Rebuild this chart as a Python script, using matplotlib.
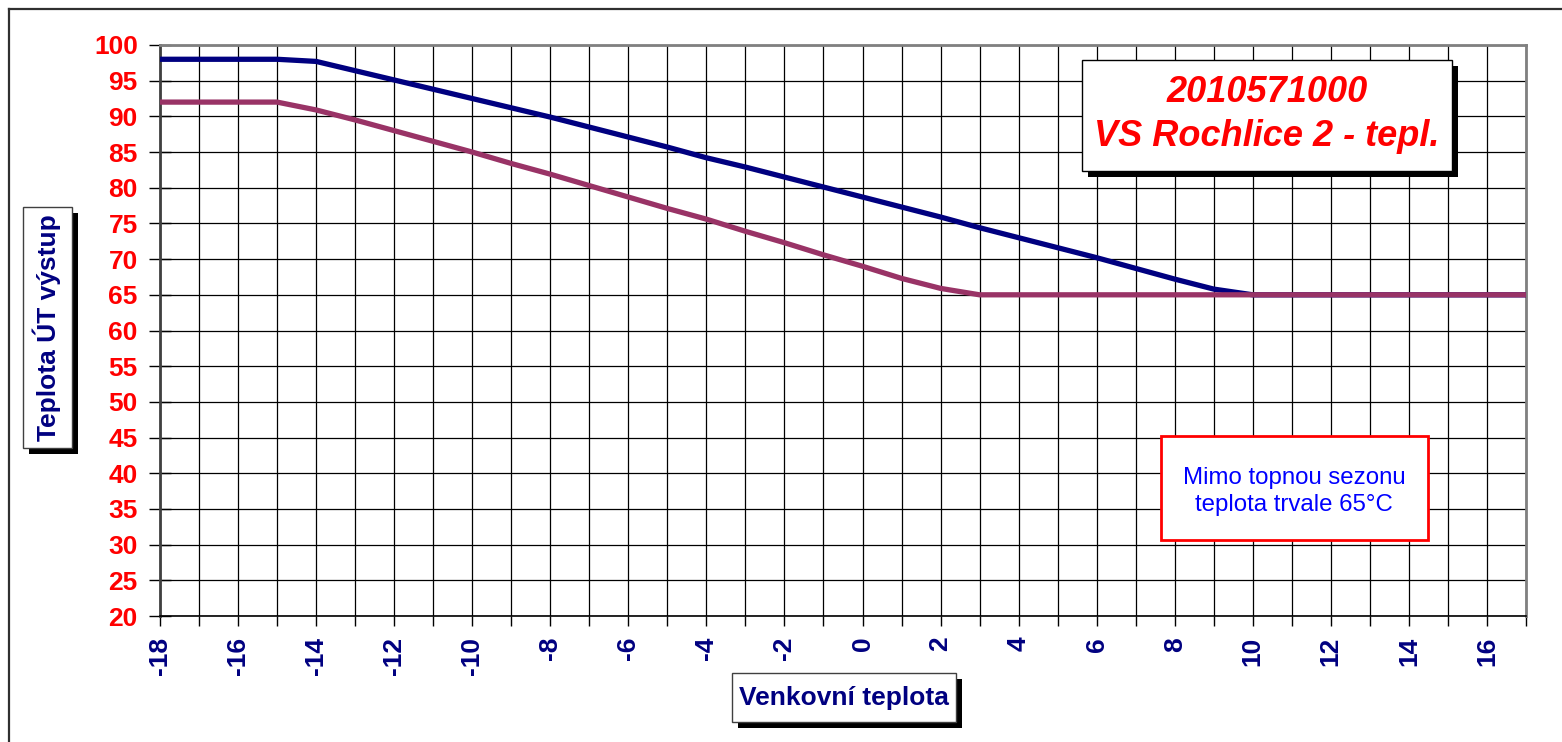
import matplotlib
matplotlib.use("Agg")
import matplotlib.pyplot as plt
from matplotlib.patches import Rectangle
from matplotlib.lines import Line2D
from matplotlib.ticker import MultipleLocator

plt.rcParams['font.family'] = ['Liberation Sans', 'DejaVu Sans']

# ---- data ----
outdoor_temp = [-18, -17, -16, -15, -14, -13, -12, -11, -10, -9, -8, -7, -6, -5, -4, -3, -2, -1,
                0, 1, 2, 3, 4, 5, 6, 7, 8, 9, 10, 11, 12, 13, 14, 15, 16, 17]
supply_upper = [98, 98, 98, 98, 97.7, 96.4, 95.1, 93.8, 92.5, 91.2, 89.9, 88.5, 87.1, 85.7, 84.2, 82.9,
                81.5, 80.1, 78.7, 77.3, 75.9, 74.4, 73.0, 71.6, 70.2, 68.7, 67.2, 65.8, 65, 65, 65, 65,
                65, 65, 65, 65]
supply_lower = [92, 92, 92, 92, 90.9, 89.5, 88.0, 86.5, 85.0, 83.4, 81.9, 80.3, 78.7, 77.1, 75.6, 73.9,
                72.3, 70.6, 69.0, 67.3, 65.9, 65.0, 65, 65, 65, 65, 65, 65, 65, 65, 65, 65,
                65, 65, 65, 65]
title_lines = ["2010571000", "VS Rochlice 2 - tepl."]
note_lines = ["Mimo topnou sezonu", "teplota trvale 65°C"]
x_label = "Venkovní teplota"
y_label = "Teplota ÚT výstup"

W, H = 1562, 742
fig = plt.figure(figsize=(W / 100, H / 100), dpi=100)
fig.patch.set_facecolor('white')

def fx(px):
    return px / W

def fy(py):
    return 1 - py / H

ax = fig.add_axes([fx(160), fy(616), fx(1526) - fx(160), fy(45) - fy(616)])
ax.plot(outdoor_temp, supply_upper, color='#000080', lw=3.8, solid_joinstyle='round', zorder=3)
ax.plot(outdoor_temp, supply_lower, color='#993366', lw=3.8, solid_joinstyle='round', zorder=3)

ax.set_xlim(-18, 17)
ax.set_ylim(20, 100)
ax.xaxis.set_major_locator(MultipleLocator(2))
ax.xaxis.set_minor_locator(MultipleLocator(1))
ax.yaxis.set_major_locator(MultipleLocator(5))
ax.grid(True, which='both', axis='x', color='black', lw=0.9)
ax.grid(True, which='major', axis='y', color='black', lw=0.9)
ax.set_axisbelow(True)

ax.tick_params(axis='y', which='major', direction='inout', length=16, width=1, color='black',
               labelsize=19, labelcolor='#FF0000', pad=8)
ax.tick_params(axis='x', which='both', direction='out', length=7, width=1, color='black',
               labelsize=19, labelcolor='#000080', pad=8)
for lab in ax.get_yticklabels():
    lab.set_fontweight('bold')
ax.set_xticks(range(-18, 17, 2))
ax.set_xticklabels([str(v) for v in range(-18, 17, 2)], rotation=90, fontweight='bold')

for s in ['top', 'right']:
    ax.spines[s].set_color('#808080')
    ax.spines[s].set_linewidth(2)
ax.spines['left'].set_color('#404040')
ax.spines['left'].set_linewidth(2)
ax.spines['bottom'].set_color('black')
ax.spines['bottom'].set_linewidth(1.2)

# outer border (top and left edges visible)
fig.add_artist(Line2D([fx(9), 1.0], [fy(9), fy(9)], transform=fig.transFigure, color='#303030', lw=1.6))
fig.add_artist(Line2D([fx(9), fx(9)], [fy(9), 0.0], transform=fig.transFigure, color='#303030', lw=1.6))

def shadow_box(x0, y0, x1, y1, edge='black', lw=1.0, shadow=5, z=10):
    if shadow:
        fig.add_artist(Rectangle((fx(x0 + shadow), fy(y1 + shadow)), fx(x1 - x0), fy(y0) - fy(y1),
                                 transform=fig.transFigure, facecolor='black', edgecolor='none', zorder=z))
    fig.add_artist(Rectangle((fx(x0), fy(y1)), fx(x1 - x0), fy(y0) - fy(y1),
                             transform=fig.transFigure, facecolor='white', edgecolor=edge, lw=lw, zorder=z + 1))

# title box
shadow_box(1082, 60, 1452, 171, edge='black', lw=1.0, shadow=6)
fig.text(fx(1267), fy(92), title_lines[0], ha='center', va='center', fontsize=26, fontweight='bold',
         fontstyle='italic', color='#FF0000', zorder=20)
fig.text(fx(1267), fy(137), title_lines[1], ha='center', va='center', fontsize=26, fontweight='bold',
         fontstyle='italic', color='#FF0000', zorder=20)

# note box
shadow_box(1161, 436, 1428, 540, edge='#FF0000', lw=2.0, shadow=0)
fig.text(fx(1294), fy(478), note_lines[0], ha='center', va='center', fontsize=17.3, color='#0000FF', zorder=20)
fig.text(fx(1294), fy(505), note_lines[1], ha='center', va='center', fontsize=17.3, color='#0000FF', zorder=20)

# axis label boxes
shadow_box(23, 207, 72, 448, edge='#404040', lw=1.0, shadow=6)
fig.text(fx(47), fy(328), y_label, ha='center', va='center', rotation=90, fontsize=19,
         fontweight='bold', color='#000080', zorder=20)
shadow_box(732, 673, 956, 722, edge='#404040', lw=1.0, shadow=6)
fig.text(fx(844), fy(698), x_label, ha='center', va='center', fontsize=19,
         fontweight='bold', color='#000080', zorder=20)

fig.savefig('out.png', dpi=100)
